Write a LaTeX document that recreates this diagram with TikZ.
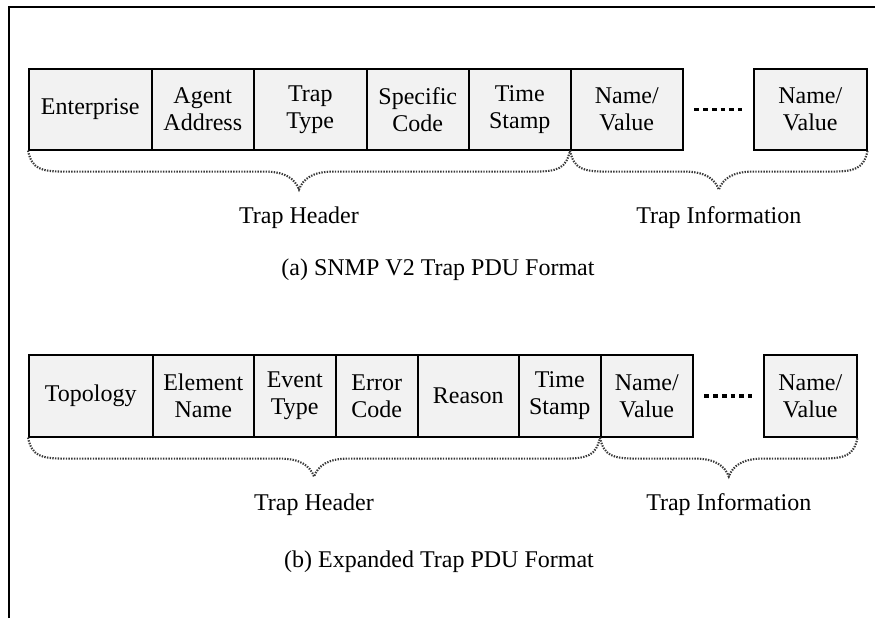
\documentclass[tikz,border=0pt]{standalone}
\usepackage{fontspec}
\setmainfont{Liberation Serif}
\usetikzlibrary{calc}
\definecolor{cellgray}{HTML}{F2F2F2}
\definecolor{bracegray}{HTML}{383838}
\tikzset{
  cell/.style={draw=black, line width=0.8pt, fill=cellgray, inner sep=0pt,
    anchor=north west, align=center, minimum height=40.5pt,
    font=\fontsize{12}{13.5}\selectfont},
  bracedots/.style={draw=bracegray, line width=1.05pt, dash pattern=on 0.7pt off 0.65pt},
  gapdots/.style={draw=black, line width=1.8pt, dash pattern=on 2.4pt off 2pt,
    shorten >=5.3pt, shorten <=5.3pt},
  partlabel/.style={anchor=base, inner sep=0pt, font=\fontsize{12}{13.5}\selectfont},
  frame/.style={draw=black, line width=0.75pt},
}
% curly brace under a run of fields: start, end, name of the tip
\newcommand\pdubrace[3]{%
  \coordinate (#3) at ($(#1)!0.5!(#2)+(0,39)$);
  \draw[bracedots] (#1) .. controls +(4,18) and +(-25,0) .. ($(#1)+(37,21)$)
    -- ($(#3)+(-34,-18)$) .. controls +(20,0) and +(-4,-11) .. (#3)
    .. controls +(4,-11) and +(-20,0) .. ($(#3)+(34,-18)$)
    -- ($(#2)+(-37,21)$) .. controls +(25,0) and +(-4,18) .. (#2);
}
\begin{document}
\begin{tikzpicture}[x=0.5pt, y=-0.5pt]
  \useasboundingbox (0,0) rectangle (875,618);
  \draw[frame] (9,618) -- (9,7) -- (875,7);

  % SNMP V2 trap PDU
  \node[cell, minimum width=61.5pt] (a1) at (28,68)  {Enterprise};
  \node[cell, minimum width=51pt]   (a2) at (151,68) {Agent\\Address};
  \node[cell, minimum width=56.5pt] (a3) at (253,68) {Trap\\Type};
  \node[cell, minimum width=51pt]   (a4) at (366,68) {Specific\\Code};
  \node[cell, minimum width=51pt]   (a5) at (468,68) {Time\\Stamp};
  \node[cell, minimum width=56pt]   (a6) at (570,68) {Name/\\Value};
  \node[cell, minimum width=56.5pt] (a7) at (753,68) {Name/\\Value};
  \draw[gapdots] (a6.east) -- (a7.west);

  \pdubrace{a1.south west}{a6.south west}{tipah}
  \pdubrace{a6.south west}{a7.south east}{tipai}
  \node[partlabel] (lah) at ($(tipah)+(0,34)$) {Trap Header};
  \node[partlabel] (lai) at ($(tipai)+(0,34)$) {Trap Information};
  \node[partlabel] (capa) at (438,275) {(a) SNMP V2 Trap PDU Format};

  % expanded trap PDU
  \node[cell, minimum width=62pt, minimum height=41pt]   (b1) at (28,354)  {Topology};
  \node[cell, minimum width=50.5pt, minimum height=41pt] (b2) at (152,354) {Element\\Name};
  \node[cell, minimum width=41pt, minimum height=41pt]   (b3) at (253,354) {Event\\Type};
  \node[cell, minimum width=41pt, minimum height=41pt]   (b4) at (335,354) {Error\\Code};
  \node[cell, minimum width=50.5pt, minimum height=41pt] (b5) at (417,354) {Reason};
  \node[cell, minimum width=41pt, minimum height=41pt]   (b6) at (518,354) {Time\\Stamp};
  \node[cell, minimum width=46pt, minimum height=41pt]   (b7) at (600,354) {Name/\\Value};
  \node[cell, minimum width=46.5pt, minimum height=41pt] (b8) at (763,354) {Name/\\Value};
  \draw[gapdots] (b7.east) -- (b8.west);

  \pdubrace{b1.south west}{b7.south west}{tipbh}
  \pdubrace{b7.south west}{b8.south east}{tipbi}
  \node[partlabel] (lbh) at ($(tipbh)+(0,34)$) {Trap Header};
  \node[partlabel] (lbi) at ($(tipbi)+(0,34)$) {Trap Information};
  \node[partlabel] (capb) at (439,567) {(b) Expanded Trap PDU Format};
\end{tikzpicture}
\end{document}
